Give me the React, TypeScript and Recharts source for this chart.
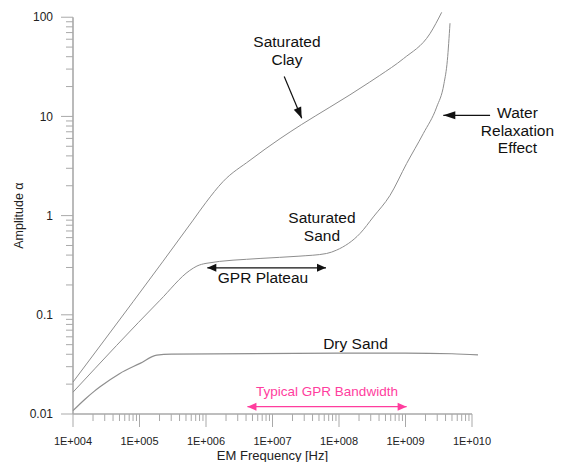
import { LineChart, Line, XAxis, YAxis, ReferenceLine, ReferenceDot, Label } from 'recharts'

// values (frequency in Hz, amplitude alpha)
const clayFreq = [1e4, 6.4e5, 1.0e6, 1.8e6, 4.6e6, 1.3e7, 2.75e7, 7.3e7, 1.46e8, 2.9e8, 4.1e8, 9.3e8, 2.33e9, 3.5e9]
const clayAmp = [0.021, 0.9, 1.36, 2.2, 3.62, 5.97, 8.3, 12.4, 16.5, 22.2, 25.9, 38.2, 68.2, 112]

const sandFreq = [1e4, 2.03e5, 5.7e5, 7.3e5, 1.0e6, 6.5e6, 2.5e7, 6.5e7, 9.2e7, 2.07e8, 3.28e8, 5.85e8, 1.04e9, 1.85e9, 2.94e9, 3.79e9, 4.26e9, 4.67e9]
const sandAmp = [0.0166, 0.14, 0.28, 0.31, 0.33, 0.37, 0.39, 0.415, 0.449, 0.66, 0.97, 1.6, 3.35, 6.71, 12.4, 21.4, 36.7, 87]

const drySandFreq = [1e4, 1.5e4, 2.1e4, 2.55e4, 5e4, 1.02e5, 1.82e5, 3e5, 1e8, 1e9, 5e9, 1.23e10]
const drySandAmp = [0.0108, 0.014, 0.017, 0.0188, 0.0255, 0.0324, 0.0393, 0.0402, 0.041, 0.041, 0.0405, 0.0395]

const xMajor = [1e4, 1e5, 1e6, 1e7, 1e8, 1e9, 1e10]
const xTickLabels = ['1E+004', '1E+005', '1E+006', '1E+007', '1E+008', '1E+009', '1E+010']
const yMajor = [0.01, 0.1, 1, 10, 100]
const yTickLabels = ['0.01', '0.1', '1', '10', '100']
const minorSteps = [2, 3, 4, 5, 6, 7, 8, 9]

// annotation anchors in data units (first-line baseline, text centred)
const notes = [
  { lines: ['Saturated', 'Clay'], f: 1.65e7, a: 49.6 },
  { lines: ['Water', 'Relaxation', 'Effect'], f: 4.83e10, a: 9.57 },
  { lines: ['Saturated', 'Sand'], f: 5.54e7, a: 0.838 },
  { lines: ['GPR Plateau'], f: 7.2e6, a: 0.2085 },
  { lines: ['Dry Sand'], f: 1.77e8, a: 0.0451 },
]
const bandNote = { lines: ['Typical GPR Bandwidth'], f: 6.6e7, a: 0.01518 }

const arrows = [
  { from: { x: 1.5e7, y: 25.3 }, to: { x: 2.75e7, y: 9.57 }, both: false, pink: false, len: 11 },
  { from: { x: 1.87e10, y: 10.26 }, to: { x: 3.7e9, y: 10.26 }, both: false, pink: false, len: 12 },
  { from: { x: 1.046e6, y: 0.2974 }, to: { x: 6.375e7, y: 0.2974 }, both: true, pink: false, len: 9 },
  { from: { x: 4.2e6, y: 0.01184 }, to: { x: 1.04e9, y: 0.01184 }, both: true, pink: true, len: 9 },
]

const X_MAX = Math.pow(10, 10.1)
const Y_MAX = Math.pow(10, 2.1)
const AXIS = '#a9a9a9'
const CURVE = '#8e8e8e'
const PINK = '#ff3d9e'
const FONT = '"Liberation Sans", Arial, sans-serif'

const withMinors = (majors: number[]) =>
  majors.flatMap((m, i) => (i < majors.length - 1 ? [m, ...minorSteps.map((s) => m * s)] : [m]))

const majorIndex = (majors: number[], v: number) => majors.findIndex((m) => Math.abs(v / m - 1) < 1e-9)

const toRows = (fs: number[], as: number[]) => fs.map((f, i) => ({ f, a: as[i] }))
const clayData = toRows(clayFreq, clayAmp)
const sandData = toRows(sandFreq, sandAmp)
const dryData = toRows(drySandFreq, drySandAmp)

function XTick(props: any) {
  const { x, y, payload } = props
  const i = majorIndex(xMajor, payload.value)
  return (
    <g>
      <line x1={x} x2={x} y1={y} y2={y + (i >= 0 ? 13 : 7)} stroke={AXIS} strokeWidth={1} />
      {i >= 0 && (
        <text x={x} y={y + 31} textAnchor="middle" fontSize={11} fill="#222" fontFamily={FONT}>
          {xTickLabels[i]}
        </text>
      )}
    </g>
  )
}

function YTick(props: any) {
  const { x, y, payload } = props
  const i = majorIndex(yMajor, payload.value)
  return (
    <g>
      <line x1={x - (i >= 0 ? 12 : 7)} x2={x} y1={y} y2={y} stroke={AXIS} strokeWidth={1} />
      {i >= 0 && (
        <text x={x - 20} y={y} dy="0.35em" textAnchor="end" fontSize={12} fill="#222" fontFamily={FONT}>
          {yTickLabels[i]}
        </text>
      )}
    </g>
  )
}

function head(tx: number, ty: number, ang: number, len: number, half: number) {
  const bx = tx - len * Math.cos(ang)
  const by = ty - len * Math.sin(ang)
  const nx = -Math.sin(ang) * half
  const ny = Math.cos(ang) * half
  return `${tx},${ty} ${bx + nx},${by + ny} ${bx - nx},${by - ny}`
}

function arrowShape(color: string, both: boolean, len: number) {
  return (p: any) => {
    const { x1, y1, x2, y2 } = p
    const ang = Math.atan2(y2 - y1, x2 - x1)
    return (
      <g>
        <line x1={x1} y1={y1} x2={x2} y2={y2} stroke={color} strokeWidth={1.2} />
        <polygon points={head(x2, y2, ang, len, 4)} fill={color} />
        {both && <polygon points={head(x1, y1, ang + Math.PI, len, 4)} fill={color} />}
      </g>
    )
  }
}

function textShape(lines: string[], color: string, size: number) {
  return (p: any) => (
    <text x={p.cx} y={p.cy} textAnchor="middle" fontSize={size} fill={color} fontFamily={FONT}>
      {lines.map((l, i) => (
        <tspan key={l} x={p.cx} dy={i === 0 ? 0 : 17.5}>
          {l}
        </tspan>
      ))}
    </text>
  )
}

export default function App() {
  return (
    <div style={{ position: 'absolute', left: 0, top: 0, width: 563, height: 462, background: '#fff' }}>
      <LineChart width={563} height={462} margin={{ top: 7.3, right: 84.35, bottom: 0, left: 0 }}>
        <XAxis
          type="number"
          dataKey="f"
          scale="log"
          domain={[1e4, X_MAX]}
          ticks={withMinors(xMajor)}
          interval={0}
          height={48}
          tickSize={0}
          tickMargin={0}
          axisLine={false}
          tickLine={false}
          tick={(p: any) => <XTick {...p} />}
        >
          <Label
            content={(p: any) => {
              const vb = p.viewBox
              return (
                <text x={vb.x + (vb.width * 3) / 6.1} y={vb.y + 46} textAnchor="middle" fontSize={13} fill="#222" fontFamily={FONT}>
                  EM Frequency [Hz]
                </text>
              )
            }}
          />
        </XAxis>
        <YAxis
          type="number"
          scale="log"
          domain={[0.01, Y_MAX]}
          ticks={withMinors(yMajor)}
          interval={0}
          width={73}
          tickSize={0}
          tickMargin={0}
          axisLine={false}
          tickLine={false}
          tick={(p: any) => <YTick {...p} />}
        >
          <Label
            content={(p: any) => {
              const vb = p.viewBox
              const cy = vb.y + vb.height - (vb.height * 2) / 4.1
              return (
                <text
                  x={vb.x + 19}
                  y={cy}
                  transform={`rotate(-90 ${vb.x + 19} ${cy})`}
                  textAnchor="middle"
                  dy="0.35em"
                  fontSize={12.5}
                  fill="#222"
                  fontFamily={FONT}
                >
                  Amplitude α
                </text>
              )
            }}
          />
        </YAxis>

        <ReferenceLine segment={[{ x: 1e4, y: 0.01 }, { x: 1e4, y: 100 }]} stroke={AXIS} strokeWidth={1.6} />
        <ReferenceLine segment={[{ x: 1e4, y: 0.01 }, { x: 1e10, y: 0.01 }]} stroke={AXIS} strokeWidth={1.6} />

        <Line data={clayData} dataKey="a" type="monotoneX" stroke={CURVE} strokeWidth={1} dot={false} isAnimationActive={false} />
        <Line data={sandData} dataKey="a" type="monotoneX" stroke={CURVE} strokeWidth={1} dot={false} isAnimationActive={false} />
        <Line data={dryData} dataKey="a" type="monotoneX" stroke={CURVE} strokeWidth={1.2} dot={false} isAnimationActive={false} />

        {arrows.map((ar, i) => (
          <ReferenceLine
            key={'ar' + i}
            segment={[ar.from, ar.to]}
            ifOverflow="visible"
            shape={arrowShape(ar.pink ? PINK : '#111', ar.both, ar.len)}
          />
        ))}
        {notes.map((n, i) => (
          <ReferenceDot key={'n' + i} x={n.f} y={n.a} r={0} ifOverflow="visible" shape={textShape(n.lines, '#111', 15.5)} />
        ))}
        <ReferenceDot x={bandNote.f} y={bandNote.a} r={0} ifOverflow="visible" shape={textShape(bandNote.lines, PINK, 13.5)} />
      </LineChart>
    </div>
  )
}
